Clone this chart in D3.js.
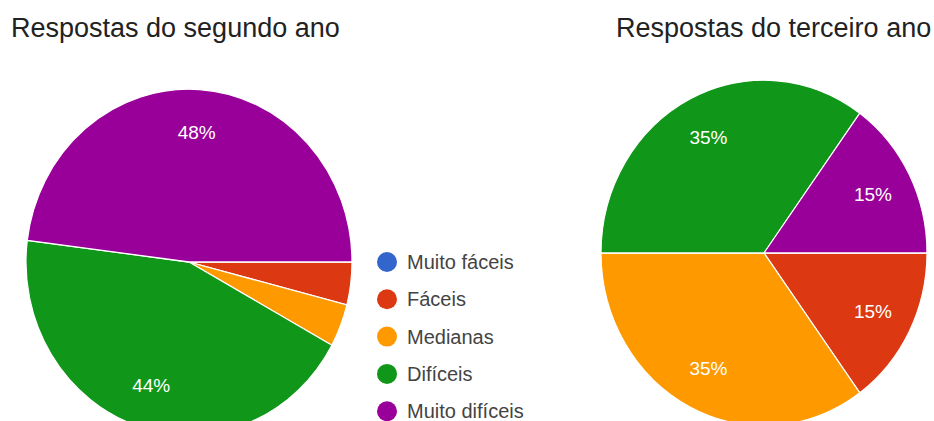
<!DOCTYPE html>
<html>
<head>
<meta charset="utf-8">
<script src="https://cdn.jsdelivr.net/npm/d3@7"></script>
<style>
  body { margin: 0; background: #fff; }
  svg { display: block; font-family: Arial, "Liberation Sans", sans-serif; }
</style>
</head>
<body>
<div id="chart"></div>
<script>
const categories = ['Muito fáceis', 'Fáceis', 'Medianas', 'Difíceis', 'Muito difíceis'];
const colors = ['#3366cc', '#dc3912', '#ff9900', '#109618', '#990099'];
const segundoAno = [0, 4, 4, 44, 48];
const terceiroAno = [0, 15, 35, 35, 15];
const titles = ['Respostas do segundo ano', 'Respostas do terceiro ano'];

const width = 934, height = 421;
const radius = 163;
const ky = 1.06; // source image is slightly stretched vertically

const svg = d3.select('#chart').append('svg')
  .attr('width', width)
  .attr('height', height);

const color = d3.scaleOrdinal().domain(categories).range(colors);

const pie = d3.pie()
  .sort(null)
  .value(d => d.value)
  .startAngle(Math.PI / 2)
  .endAngle(Math.PI / 2 + 2 * Math.PI);

const arc = d3.arc().innerRadius(0).outerRadius(radius);
const labelArc = d3.arc().innerRadius(radius * 0.75).outerRadius(radius * 0.75);

function drawPie(values, cx, cy, title, titleX) {
  const data = categories.map((c, i) => ({ name: c, value: values[i] }));
  const arcs = pie(data);

  svg.append('text')
    .attr('x', titleX)
    .attr('y', 37)
    .attr('font-size', 27)
    .attr('fill', '#222')
    .text(title);

  const g = svg.append('g')
    .attr('transform', `translate(${cx}, ${cy}) scale(1, ${ky})`);

  g.selectAll('path')
    .data(arcs.filter(d => d.data.value > 0))
    .enter()
    .append('path')
    .attr('d', arc)
    .attr('fill', d => color(d.data.name))
    .attr('stroke', '#fff')
    .attr('stroke-width', 1.2);

  const labels = svg.append('g')
    .attr('transform', `translate(${cx}, ${cy})`);

  labels.selectAll('text')
    .data(arcs.filter(d => d.data.value >= 10))
    .enter()
    .append('text')
    .attr('x', d => labelArc.centroid(d)[0])
    .attr('y', d => labelArc.centroid(d)[1] * ky)
    .attr('dy', '0.35em')
    .attr('text-anchor', 'middle')
    .attr('font-size', 19)
    .attr('fill', '#fff')
    .text(d => d.data.value + '%');
}

drawPie(segundoAno, 189, 262, titles[0], 11);
drawPie(terceiroAno, 764, 253, titles[1], 616);

// legend
const legend = svg.append('g')
  .attr('transform', 'translate(387, 262)');

const rows = legend.selectAll('g')
  .data(categories)
  .enter()
  .append('g')
  .attr('transform', (d, i) => `translate(0, ${i * 37.3})`);

rows.append('circle')
  .attr('r', 10)
  .attr('fill', d => color(d));

rows.append('text')
  .attr('x', 20)
  .attr('dy', '0.35em')
  .attr('font-size', 20)
  .attr('fill', '#444')
  .text(d => d);
</script>
</body>
</html>
